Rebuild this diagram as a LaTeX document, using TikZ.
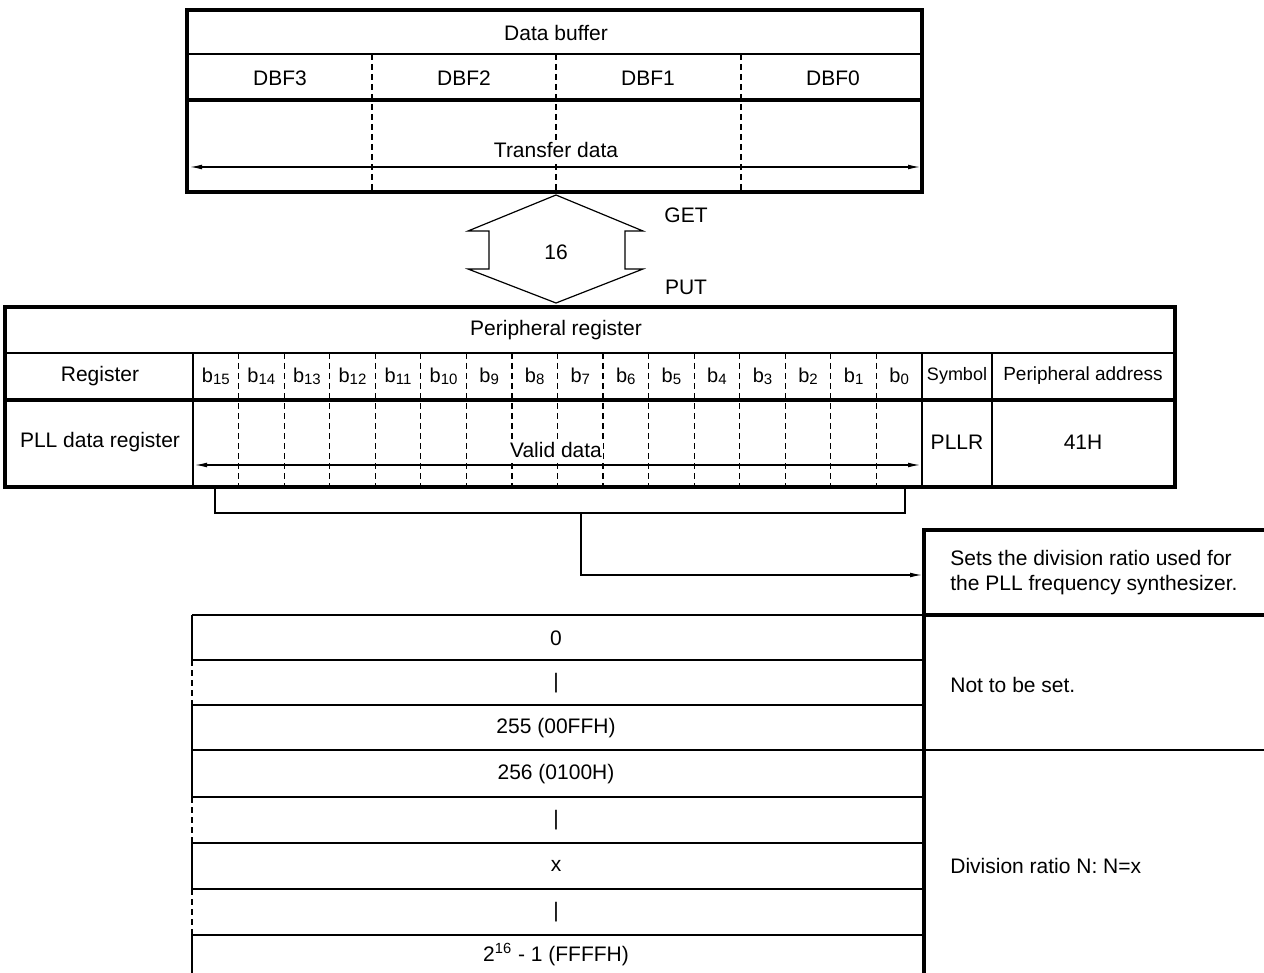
\documentclass[tikz,border=0pt]{standalone}
\usepackage{fontspec}
\setmainfont{Liberation Sans}
\usepackage{tikz}
\usetikzlibrary{arrows.meta}
\tikzset{
  frame/.style={line width=1.6pt},
  rule/.style={line width=0.6pt},
  sep/.style={line width=0.6pt,dash pattern=on 3pt off 2pt},
  txt/.style={font=\fontsize{10.5}{12.5}\selectfont,inner sep=1pt},
  small/.style={font=\fontsize{9}{11}\selectfont,inner sep=1pt},
  bits/.style={font=\fontsize{10}{12}\selectfont,inner sep=1pt},
  link/.style={-{Latex[length=6pt,width=2.4pt]},line width=0.6pt},
  span/.style={{Latex[length=6pt,width=2.4pt]}-{Latex[length=6pt,width=2.4pt]},line width=0.6pt},
}
\newcommand{\bitno}[1]{b\raisebox{-0.2ex}{\fontsize{7.5}{8}\selectfont #1}}

\begin{document}
\begin{tikzpicture}[x=0.5pt,y=-0.5pt]
  \useasboundingbox (0,0) rectangle (1264,973);

  % data buffer
  \draw[rule] (187,54) -- (922,54);
  \foreach \x in {372,556,741} \draw[sep] (\x,54) -- (\x,192);
  \draw[frame] (187,100) -- (922,100);
  \draw[frame] (187,10) rectangle (922,192);
  \node[txt] (dbuf) at (556,33) {Data buffer};
  \foreach \x/\n in {280/3,464/2,648/1,833/0}
    \node[txt] (dbf\n) at (\x,78) {DBF\n};
  \coordinate (xl) at (190,167);
  \coordinate (xr) at (920,167);
  \draw[span] (xl) -- (xr);
  \node[txt,fill=white] (xfer) at (556,150) {Transfer data};

  % GET/PUT
  \draw[rule] (556,195) -- (643,231) -- (625,231) -- (625,269) -- (643,269)
    -- (556,303) -- (468,269) -- (489,269) -- (489,231) -- (468,231) -- cycle;
  \node[txt] (width) at (556,252) {16};
  \node[txt] (get) at (686,215) {GET};
  \node[txt] (put) at (686,287) {PUT};

  % peripheral register
  \draw[rule] (5,353) -- (1175,353);
  \draw[frame] (5,400) -- (1175,400);
  \foreach \x in {193,922,992} \draw[rule] (\x,353) -- (\x,487);
  \foreach \i in {1,...,15} \draw[sep] ({193+\i*45.56},353) -- ++(0,134);
  \draw[frame] (5,307) rectangle (1175,487);
  \node[txt] (perireg) at (556,330) {Peripheral register};
  \node[txt] (reghead) at (100,376) {Register};
  \foreach \i in {0,...,15}
    \node[bits] (b\i) at ({193+(15.5-\i)*45.56},376) {\bitno{\i}};
  \node[small] (symhead) at (957,376) {Symbol};
  \node[small,font=\fontsize{9.5}{11}\selectfont] (addrhead) at (1083,376) {Peripheral address};
  \node[txt] (pllreg) at (100,442) {PLL data register};
  \node[txt] (pllr) at (957,442) {PLLR};
  \node[txt] (addr) at (1083,442) {41H};
  \coordinate (vl) at (195,465);
  \coordinate (vr) at (920,465);
  \draw[span] (vl) -- (vr);
  \node[txt,fill=white,inner sep=0.5pt] (valid) at (556,450) {Valid data};

  % description
  \node[txt,align=left,anchor=west] (desc) at (948,573)
    {Sets the division ratio used for\\the PLL frequency synthesizer.};
  \draw[frame] (1264,530) -- (924,530) -- (924,973);
  \draw[frame] (924,615) -- (1264,615);
  \draw[rule] (924,750) -- (1264,750);
  \node[txt,anchor=west] (notset) at (948,685) {Not to be set.};
  \node[txt,anchor=west] (ratio) at (948,866) {Division ratio N: N=x};

  % bracket to description
  \coordinate (brl) at (215,487);
  \coordinate (brr) at (905,487);
  \coordinate (brm) at (581,513);
  \coordinate (dsc) at (922,575);
  \draw[rule] (brl) -- (215,513) -- (905,513) -- (brr);
  \draw[link] (brm) |- (dsc);

  % value table
  \foreach \y in {615,660,705,750,797,843,889,935} \draw[rule] (192,\y) -- (922,\y);
  \draw[rule] (192,615) -- (192,660);
  \draw[sep] (192,660) -- (192,705);
  \draw[rule] (192,705) -- (192,797);
  \draw[sep] (192,797) -- (192,843);
  \draw[rule] (192,843) -- (192,889);
  \draw[sep] (192,889) -- (192,935);
  \draw[rule] (192,935) -- (192,973);
  \node[txt] (v0) at (556,638) {0};
  \node[txt] (d1) at (556,683) {|};
  \node[txt] (v255) at (556,728) {255 (00FFH)};
  \node[txt] (v256) at (556,774) {256 (0100H)};
  \node[txt] (d2) at (556,820) {|};
  \node[txt] (vx) at (556,866) {x};
  \node[txt] (d3) at (556,912) {|};
  \node[txt] (vmax) at (556,955) {2\textsuperscript{16} - 1 (FFFFH)};
\end{tikzpicture}
\end{document}
